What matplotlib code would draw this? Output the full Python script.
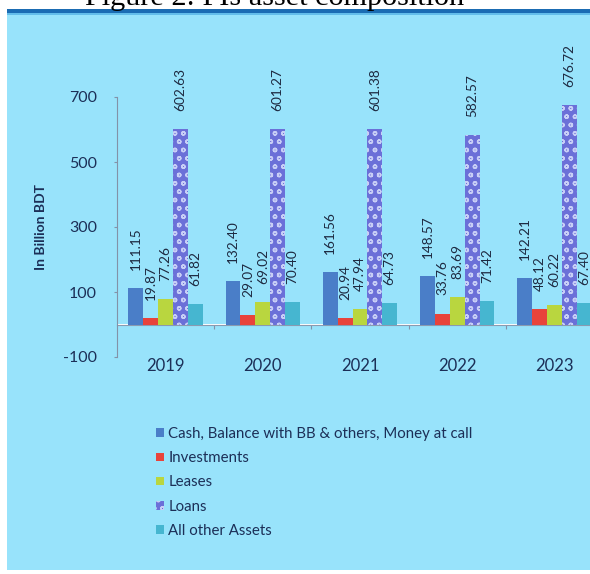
import numpy as np
import matplotlib
matplotlib.use('Agg')
import matplotlib.pyplot as plt
from matplotlib.patches import Rectangle

# asset composition of FIs, in billion BDT
years = ['2019', '2020', '2021', '2022', '2023']
cash = [111.15, 132.40, 161.56, 148.57, 142.21]
investments = [19.87, 29.07, 20.94, 33.76, 48.12]
leases = [77.26, 69.02, 47.94, 83.69, 60.22]
loans = [602.63, 601.27, 601.38, 582.57, 676.72]
other_assets = [61.82, 70.40, 64.73, 71.42, 67.40]

series_names = ['Cash, Balance with BB & others, Money at call', 'Investments',
                'Leases', 'Loans', 'All other Assets']
series_vals = [cash, investments, leases, loans, other_assets]
series_colors = ['#4a7ec8', '#e8433b', '#b9d63f', '#6b70d8', '#46b6d0']

plt.rcParams['font.family'] = ['Lato', 'DejaVu Sans']
plt.rcParams['axes.unicode_minus'] = False
navy = '#1c2f57'

W, H = 590, 574
fig = plt.figure(figsize=(W / 100, H / 100), dpi=100)

# light blue panel with a dark band along its top
fig.patches.append(Rectangle((7 / W, 4 / H), 1, (H - 4 - 13) / H, transform=fig.transFigure,
                             facecolor='#98e3fb', edgecolor='none', zorder=-2))
fig.patches.append(Rectangle((7 / W, (H - 13) / H), 1, 4 / H, transform=fig.transFigure,
                             facecolor='#1b6cb3', edgecolor='none', zorder=-1))
fig.patches.append(Rectangle((7 / W, (H - 15) / H), 1, 2 / H, transform=fig.transFigure,
                             facecolor='#63bdea', edgecolor='none', zorder=-1))

fig.text(0.465, 1 - 5 / H, 'Figure 2: FIs asset composition', family='Liberation Serif',
         fontsize=21.8, ha='center', va='baseline')

ax = fig.add_axes([117 / W, (H - 357) / H, 486 / W, 260 / H])
ax.set_facecolor('none')
ax.set_xlim(-0.5, 4.5)
ax.set_ylim(-100, 700)

x = np.arange(len(years))
width = 0.153
handles = []
for i, (name, vals, col) in enumerate(zip(series_names, series_vals, series_colors)):
    pos = x + (i - 2) * width
    if name == 'Loans':
        bars = ax.bar(pos, vals, width, color=col, edgecolor='#c8cff6', hatch='oo',
                      linewidth=0, label=name)
    else:
        bars = ax.bar(pos, vals, width, color=col, linewidth=0, label=name)
    handles.append(bars)
    for p, v in zip(pos, vals):
        ax.annotate(f'{v:.2f}', (p, v), xytext=(0, 13), textcoords='offset points',
                    rotation=90, ha='center', va='bottom', fontsize=9.8, color='#1d2940')

# axes styling
for s in ['top', 'right', 'bottom']:
    ax.spines[s].set_visible(False)
ax.spines['left'].set_color('#8392a8')
ax.set_yticks([-100, 100, 300, 500, 700])
ax.tick_params(axis='y', length=2.5, color='#8392a8', pad=12, labelsize=11.5, labelcolor=navy)
ax.set_xticks(x)
ax.set_xticklabels(years)
ax.tick_params(axis='x', length=0, pad=1, labelsize=12, labelcolor=navy)

# zero line with group separators
zero = ax.secondary_xaxis(0.125)
zero.set_xticks([0.5, 1.5, 2.5, 3.5])
zero.tick_params(length=3, color='#8392a8', labelbottom=False)
zero.spines['bottom'].set_color('#8a9ab0')

ax.set_ylabel('In Billion BDT', fontsize=10, fontweight='bold', color=navy)
ax.yaxis.set_label_coords(-0.145, 0.5)

fig.legend(handles=handles, loc='upper left', bbox_to_anchor=(150 / W, 1 - 421 / H),
           frameon=False, fontsize=10.8, labelcolor=navy, handlelength=0.5, handleheight=0.5,
           handletextpad=0.32, labelspacing=0.68, borderaxespad=0)

fig.savefig('out.png', dpi=100)
